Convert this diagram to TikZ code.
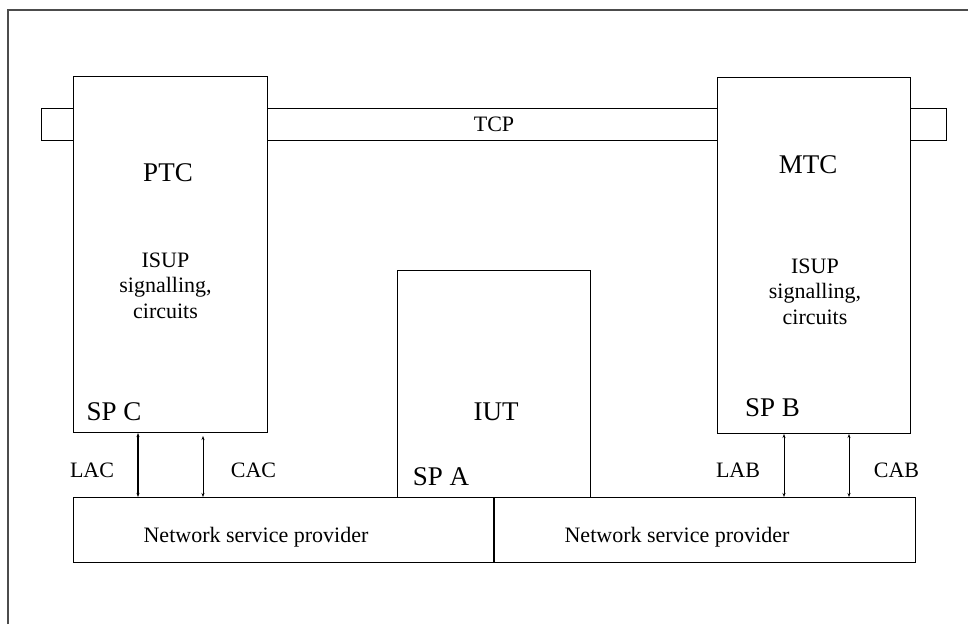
\documentclass[tikz,border=0pt]{standalone}
\usepackage{fontspec}
\setmainfont{Liberation Serif}
\usetikzlibrary{positioning,arrows.meta}

\tikzset{
  blk/.style={draw,fill=white,inner sep=0pt,anchor=north west},
  bigtxt/.style={font=\fontsize{27}{32}\selectfont,anchor=base,inner sep=0pt},
  smalltxt/.style={font=\fontsize{22}{25.5}\selectfont,anchor=base,inner sep=0pt},
  link/.style={{Stealth[length=4pt,width=3pt]}-{Stealth[length=4pt,width=3pt]},line width=0.8pt}
}

\begin{document}
\begin{tikzpicture}[x=1pt,y=-1pt,line width=1pt]
\useasboundingbox (0,0) rectangle (968,625);
\draw[line width=1.3pt,black!70] (8,624) -- (8,10) -- (968,10);
% TCP bar runs behind the two switches
\node[blk,minimum width=905pt,minimum height=32pt,font=\fontsize{22}{26}\selectfont] (tcp) at (41,108) {TCP};
\node[blk,minimum width=194pt,minimum height=356pt] (ptc) at (73,76) {};
\node[blk,minimum width=193pt,minimum height=356pt] (mtc) at (717,77) {};
\node[blk,minimum width=193pt,minimum height=227pt] (iut) at (397,270) {};
\node[blk,minimum width=420pt,minimum height=65pt] (nspl) at (73,497) {};
\node[blk,minimum width=421pt,minimum height=65pt] (nspr) at (nspl.north east) {};
% texts
\node[bigtxt] (ptclab) at (168,181.5) {PTC};
\node[bigtxt] (mtclab) at (808,173) {MTC};
\node[bigtxt] (iutlab) at (496,420.5) {IUT};
\node[bigtxt] (spc) at (114,420) {SP C};
\node[bigtxt] (spa) at (441,485) {SP A};
\node[bigtxt] (spb) at (772.5,416.5) {SP B};
\node[smalltxt,align=center] (ptcisup) at (165.5,318) {ISUP\\signalling,\\circuits};
\node[smalltxt,align=center] (mtcisup) at (815,324) {ISUP\\signalling,\\circuits};
\node[smalltxt] (nspltxt) at (256,542) {Network service provider};
\node[smalltxt] (nsprtxt) at (677,542) {Network service provider};
\node[smalltxt] (laclab) at (92,477.5) {LAC};
\node[smalltxt] (caclab) at (253.5,477.5) {CAC};
\node[smalltxt] (lablab) at (738,477.5) {LAB};
\node[smalltxt] (cablab) at (896.5,477.5) {CAB};
% access links
\coordinate (lac) at (138,0);
\coordinate (cac) at (203,0);
\coordinate (lab) at (784,0);
\coordinate (cab) at (849,0);
\draw[link,line width=2pt] (lac |- ptc.south) -- (lac |- nspl.north);
\draw[link] ([yshift=-3pt]cac |- ptc.south) -- (cac |- nspl.north);
\draw[link] (lab |- mtc.south) -- (lab |- nspr.north);
\draw[link] (cab |- mtc.south) -- (cab |- nspr.north);
\end{tikzpicture}
\end{document}
